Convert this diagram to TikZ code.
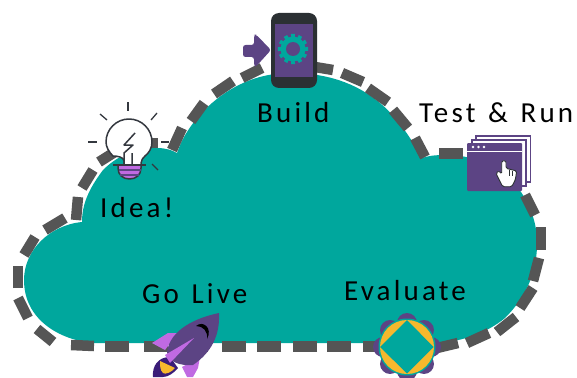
\documentclass[tikz,border=0pt]{standalone}
\usepackage{fontspec}
\newfontfamily\lblfont[LetterSpace=11,WordSpace=1.3]{Carlito}
\definecolor{teal}{HTML}{00A79D}
\definecolor{dashgrey}{HTML}{555555}
\definecolor{iconpurple}{HTML}{5C4484}
\definecolor{phonedark}{HTML}{2B3033}
\definecolor{bulbline}{HTML}{34383F}
\definecolor{pinkish}{HTML}{C06AE2}
\definecolor{amber}{HTML}{F6B82D}
\definecolor{deepviolet}{HTML}{3A1C78}
\tikzset{
  lbl/.style={anchor=base west,inner sep=0pt,font=\fontsize{29}{31}\selectfont\lblfont},
  dashseg/.style={draw=dashgrey,line width=10.5pt,line cap=butt},
  ray/.style={draw=bulbline,line width=1.3pt},
  bulbstroke/.style={draw=bulbline,line width=1.5pt,line join=round}
}
\begin{document}
\begin{tikzpicture}[x=1pt,y=-1pt]
\useasboundingbox (0,0) rectangle (577,377);
% cloud
\fill[teal] (82,222)
  .. controls (82,205) and (88,190) .. (103,170)
  .. controls (118,155) and (138,147) .. (157,148)
  .. controls (165,148) and (172,150) .. (177,153)
  .. controls (183,135) and (195,118) .. (212,103)
  .. controls (235,83) and (262,73) .. (290,73)
  .. controls (325,73) and (355,82) .. (380,103)
  .. controls (398,118) and (412,140) .. (422,158)
  .. controls (428,156) and (434,155) .. (445,155)
  .. controls (480,155) and (505,170) .. (521,192)
  .. controls (532,208) and (538,228) .. (537,247)
  .. controls (536,275) and (525,298) .. (505,318)
  .. controls (487,333) and (462,341) .. (440,343)
  -- (93,343)
  .. controls (60,340) and (24,320) .. (24,280)
  .. controls (24,250) and (50,225) .. (82,222) -- cycle;
% dashed outline
\foreach \ax/\ay/\bx/\by in {
  76/220/78/197, 93/170/82/188, 99/162/118/150, 136/143/158/143,
  172/150/182/128, 191/121/204/103, 214/94/233/81, 242/78/262/68,
  315/67/333/70, 342/73/363/82, 368/88/388/102, 393/110/408/128,
  415/138/425/157, 439/153.5/463/153.5, 525/195/535/215,
  541/227/541/250, 539/258/533/281, 533/288/520/308, 516/317/497/332,
  489/333/467/343, 458/343/437/348, 385/346.5/363/346.5, 351/346.5/327/346.5,
  317/346.5/293/346.5, 281/346.5/257/346.5, 246/346.5/222/346.5,
  208/346.5/184/346.5, 168/346.5/144/346.5, 129/346.5/105/346.5,
  94/346/71/345, 53/342/37/329, 28/318/18/298, 18/288/18/266,
  24/255/35/237, 45/230/65/218}
  {\draw[dashseg] (\ax,\ay) -- (\bx,\by);}
% labels
\node[lbl] (build) at (257,122) {Build};
\node[lbl] (idea) at (100,217) {Idea!};
\node[lbl] (test) at (419,122) {Test \& Run};
\node[lbl] (golive) at (142,303) {Go Live};
\node[lbl] (evaluate) at (344,300) {Evaluate};
% phone
\fill[iconpurple,rounded corners=2.5pt] (243,45) -- (254,45) -- (254,35) -- (256,34.5) -- (271,50) -- (256,66.5) -- (254,66) -- (254,57) -- (243,57) -- cycle;
\fill[phonedark,rounded corners=8pt] (271,13) rectangle (317,88);
\fill[iconpurple] (275,24) rectangle (313,77);
\fill[teal] (293,49) circle (12.5);
\foreach \a in {0,30,...,330} {\fill[teal] (293,49) ++(\a-8:11) -- ++(\a-8:4.2) -- ++(\a+90:4) -- ++(\a:-4.2) -- cycle;}
\fill[iconpurple] (293,49) circle (7);
% bulb
\foreach \ax/\ay/\bx/\by in {128/102/128/111, 100/114/107/120, 157/113/151/120, 88/142/97/142, 161/142/169/142, 152/164/158/170}
  {\draw[ray] (\ax,\ay) -- (\bx,\by);}
\filldraw[bulbstroke,fill=white] (124,165) -- (124,161)
  .. controls (124,157) and (117,156) .. (113,156)
  .. controls (109,152) and (106,147) .. (106,142)
  .. controls (106,129.3) and (116.3,119) .. (129,119)
  .. controls (141.7,119) and (152,129.3) .. (152,142)
  .. controls (152,148) and (149,153) .. (145,156)
  .. controls (143,158) and (141,160) .. (141,163) -- (141,165) -- cycle;
\filldraw[bulbstroke,fill=pinkish] (118,165) -- (141,165) -- (141,168)
  .. controls (141,175) and (136,179) .. (129.5,179)
  .. controls (123,179) and (118,175) .. (118,168) -- cycle;
\draw[draw=iconpurple,line width=1.3pt] (118.5,170) -- (140.5,170) (120,175) -- (139,175);
\draw[bulbstroke] (113,165) -- (146,165);
\draw[bulbstroke] (135,133) -- (124,145) -- (133,145) -- (124,153) -- (124,165) (132,153) -- (132,165);
% window
\filldraw[draw=iconpurple,fill=white,line width=1.3pt] (476,136) rectangle (530.5,182);
\filldraw[draw=iconpurple,fill=white,line width=1.3pt] (472,140) rectangle (526,186);
\fill[iconpurple,rounded corners=1pt] (467,143) rectangle (522,191);
\draw[white,line width=1pt] (467,151.5) -- (522,151.5);
\foreach \dotx in {473,478.5,484} {\fill[white] (\dotx,147) circle (1.3);}
\filldraw[draw=phonedark,fill=white,line width=0.9pt,rounded corners=1.5pt] (501.7,160.7) -- (506,160.7) -- (506,168.3) -- (516.7,171) -- (515.3,180) -- (511.7,186.7) -- (502.7,186.7) -- (496,173.3) -- (498.7,170.7) -- (501.7,174) -- cycle;
\draw[phonedark,line width=0.6pt] (509,170) -- (509,176) (512.5,171) -- (512.5,176);
% rocket
\begin{scope}
\clip (0,0) rectangle (577,377);
\fill[pinkish] (152,343) -- (168,333) -- (178,333) -- (165,350) -- cycle;
\fill[pinkish] (182,367) -- (200,357) -- (198,368) -- (193,377) -- (187,377) -- cycle;
\fill[deepviolet] (153,377) .. controls (152,366) and (158,357) .. (170,357) -- (178,368) .. controls (174,373) and (168,377) .. (163,377) -- cycle;
\fill[amber] (160,361) -- (175,368) .. controls (172,372) and (165,375) .. (163,373) .. controls (160,370) and (160,366) .. (160,361) -- cycle;
\fill[iconpurple] (219,313) .. controls (195,318) and (170,330) .. (167,352)
  .. controls (168,362) and (180,366) .. (193,365) .. controls (212,352) and (220,335) .. (219,313) -- cycle;
\fill[pinkish] (194,338) -- (165,355) -- (170,363) -- cycle;
\fill[black] (196,326) .. controls (203,320) and (213,328) .. (207,339) .. controls (208,331) and (203,326) .. (196,326) -- cycle;
\end{scope}
% evaluate icon
\begin{scope}
\clip (0,0) rectangle (577,377);
\fill[iconpurple] (407,347) circle (27);
\foreach \a in {0,45,...,315} {\fill[iconpurple] (407,347) ++(\a:24) circle (10);}
\fill[teal] (407,347) circle (28.5);
\fill[amber] (407,347) circle (27);
\fill[teal] (407,320) -- (433.5,347) -- (407,373.5) -- (380,347) -- cycle;
\end{scope}
\end{tikzpicture}
\end{document}
